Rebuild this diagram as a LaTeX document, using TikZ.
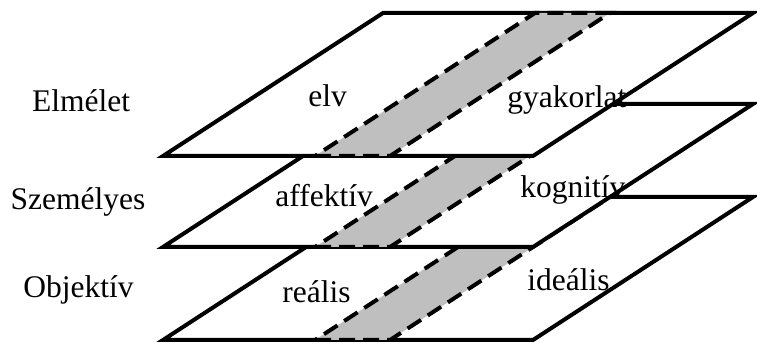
\documentclass[tikz,border=0pt]{standalone}
\usepackage{fontspec}
\setmainfont{Liberation Serif}

\tikzset{
	plane/.style={draw,fill=white,line width=2pt,line join=miter},
	band/.style={draw,fill=black!25,line width=2pt,dash pattern=on 8pt off 4pt},
	lbl/.style={inner sep=0,font=\fontsize{15.75}{18}\selectfont}
}

\begin{document}
\begin{tikzpicture}[x=0.5pt,y=0.5pt]
\useasboundingbox (0,0) rectangle (757,343);
\foreach \y in {3,96,187}{
	\draw[plane] (163,\y)--++(370,0)--++(220,143)--++(-370,0)--cycle;
	\draw[band] (315,\y)--++(75,0)--++(220,143)--++(-75,0)--cycle;
}
\node[lbl,anchor=base] (elmelet) at (81,231) {Elmélet};
\node[lbl,anchor=base] (szemelyes) at (78,133) {Személyes};
\node[lbl,anchor=base] (objektiv) at (78.5,45) {Objektív};
\node[lbl,anchor=base west] (elv) at (308,236) {elv};
\node[lbl,anchor=base west] (gyakorlat) at (507,235) {gyakorlat};
\node[lbl,anchor=base west] (affektiv) at (275,136) {affektív};
\node[lbl,anchor=base west] (kognitiv) at (520,145) {kognitív};
\node[lbl,anchor=base west] (realis) at (282,40) {reális};
\node[lbl,anchor=base west] (idealis) at (527,52) {ideális};
\end{tikzpicture}
\end{document}
